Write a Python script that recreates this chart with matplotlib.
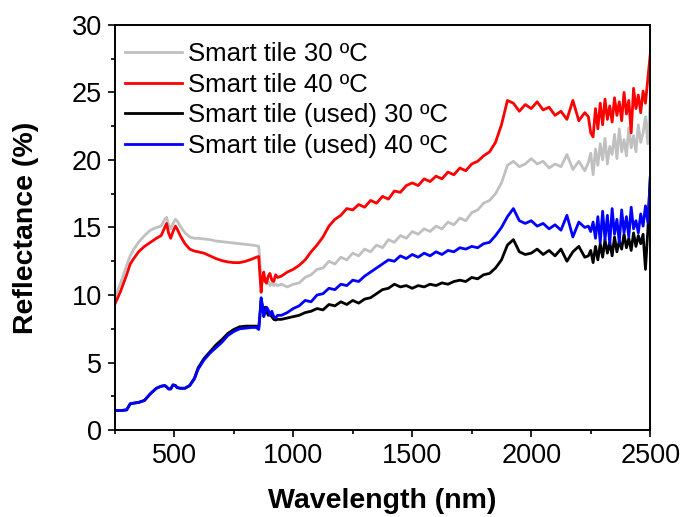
import matplotlib
matplotlib.use('Agg')
import matplotlib.pyplot as plt
from matplotlib.ticker import MultipleLocator

plt.rcParams['font.family'] = ['Liberation Sans', 'DejaVu Sans']

# Wavelength grid (nm): smooth UV-VIS part, the detector switch near 860 nm, then NIR
wl = [250, 275, 300, 315, 330, 350, 375, 400, 425, 445, 460, 468, 476, 485, 495,
      505, 512, 525, 545, 565, 585, 600, 625, 650, 675, 700, 725, 750, 775, 800,
      825, 845, 855,
      860, 865, 870, 876, 882, 888, 895, 902, 910, 918, 926, 934,
      950, 975, 1000, 1025, 1050, 1075, 1100, 1125, 1150, 1175, 1200, 1225, 1250,
      1275, 1300, 1325, 1350, 1375, 1400, 1425, 1450, 1475, 1500, 1525, 1550, 1575,
      1600, 1625, 1650, 1675, 1700, 1725, 1750, 1775, 1800, 1825, 1850, 1875, 1900,
      1925, 1950, 1975, 2000, 2025, 2050, 2075, 2100, 2125, 2150, 2175, 2200, 2225,
      2240, 2250, 2260, 2270, 2280, 2290, 2300, 2310, 2320, 2330, 2340, 2350, 2360,
      2370, 2380, 2390, 2400, 2410, 2420, 2430, 2440, 2450, 2460, 2470, 2480, 2490,
      2500]

tile_30 = [9.8, 10.9, 12.2, 12.9, 13.4, 13.9, 14.4, 14.8, 15.0, 15.1, 15.6, 15.75, 15.2, 14.9, 15.3,
           15.6, 15.5, 15.1, 14.6, 14.3, 14.2, 14.2, 14.15, 14.1, 14.0, 13.95, 13.9, 13.85, 13.8, 13.75,
           13.7, 13.65, 13.6,
           12.5, 11.2, 11.6, 11.0, 11.3, 10.8, 11.0, 10.7, 10.9, 10.7, 10.8, 10.7,
           10.8, 10.6, 10.8, 10.9, 11.3, 11.5, 11.9, 12.0, 12.5, 12.3, 12.8, 12.6, 13.1,
           12.9, 13.4, 13.2, 13.7, 13.5, 14.1, 13.9, 14.4, 14.2, 14.7, 14.5, 14.9, 14.7,
           15.1, 14.9, 15.4, 15.2, 15.7, 15.5, 16.1, 16.3, 16.8, 17.0, 17.5, 18.3, 19.6,
           19.9, 19.5, 19.7, 20.1, 19.7, 19.9, 19.4, 19.7, 19.5, 20.4, 19.3, 19.9, 19.2,
           19.8, 20.5, 18.9, 20.8, 19.6, 21.2, 20.0, 21.6, 19.7, 21.0, 20.4, 21.9, 20.1,
           22.3, 20.6, 21.5, 20.3, 22.4, 20.9, 21.8, 20.6, 22.6, 21.3, 22.0, 23.2, 21.2,
           24.5]

tile_40 = [9.3, 10.3, 11.5, 12.3, 12.7, 13.2, 13.6, 13.9, 14.2, 14.4, 15.0, 15.3, 14.6, 14.2, 14.7,
           15.1, 14.9, 14.4, 13.8, 13.4, 13.25, 13.2, 13.1, 12.9, 12.7, 12.55, 12.45, 12.4, 12.4, 12.5,
           12.65, 12.8, 12.85,
           11.5, 10.2, 11.2, 11.7, 11.0, 10.9, 11.4, 11.6, 11.1, 11.0, 11.5, 11.3,
           11.4, 11.7, 11.9, 12.2, 12.6, 13.2, 13.7, 14.3, 15.1, 15.6, 15.9, 16.4, 16.3,
           16.7, 16.5, 17.0, 16.8, 17.3, 17.1, 17.7, 17.6, 18.1, 18.3, 18.1, 18.6, 18.4,
           18.8, 18.6, 19.1, 18.9, 19.4, 19.2, 19.7, 19.9, 20.3, 20.6, 21.3, 22.6, 24.4,
           24.2, 23.6, 24.1, 23.8, 24.3, 23.7, 23.9, 23.3, 23.6, 23.0, 24.4, 22.9, 23.5,
           23.2, 22.0, 21.7, 23.8, 22.3, 24.2, 22.6, 24.5, 23.0, 24.0, 22.8, 24.6, 23.3,
           24.3, 22.9, 25.0, 23.4, 24.4, 22.0, 25.3, 23.8, 24.8, 23.5, 25.1, 24.2, 26.0,
           27.8]

used_30 = [1.45, 1.45, 1.5, 1.95, 2.0, 2.05, 2.2, 2.7, 3.1, 3.25, 3.3, 3.2, 3.05, 3.05, 3.35,
           3.3, 3.15, 3.1, 3.1, 3.3, 3.85, 4.6, 5.3, 5.8, 6.3, 6.7, 7.15, 7.45, 7.65, 7.7,
           7.7, 7.7, 7.6,
           8.5, 9.6, 9.2, 8.6, 9.1, 8.8, 8.5, 8.6, 8.4, 8.2, 8.15, 8.2,
           8.2, 8.3, 8.4, 8.5, 8.7, 8.8, 9.0, 8.9, 9.3, 9.2, 9.5, 9.3, 9.6,
           9.4, 9.7, 9.8, 10.1, 10.4, 10.5, 10.8, 10.6, 10.7, 10.5, 10.7, 10.6, 10.8,
           10.7, 10.9, 10.8, 11.0, 11.1, 11.0, 11.3, 11.2, 11.5, 11.6, 12.0, 12.6, 13.7,
           14.1, 13.2, 13.0, 13.1, 13.4, 13.0, 13.3, 12.9, 13.4, 12.5, 13.2, 13.6, 12.8,
           12.9, 13.3, 12.4, 13.6, 12.6, 13.8, 12.8, 14.1, 13.1, 13.9, 12.9, 14.3, 13.2,
           14.0, 13.4, 14.5, 13.5, 14.2, 13.3, 14.6, 13.6, 14.4, 13.8, 14.5, 11.9, 14.8,
           18.7]

used_40 = [1.45, 1.45, 1.5, 1.95, 2.0, 2.05, 2.2, 2.7, 3.1, 3.25, 3.3, 3.2, 3.05, 3.05, 3.35,
           3.3, 3.15, 3.1, 3.1, 3.3, 3.8, 4.5, 5.2, 5.7, 6.1, 6.5, 7.0, 7.3, 7.5, 7.55,
           7.6, 7.6, 7.45,
           8.5, 9.8, 9.3, 8.4, 8.7, 9.1, 8.9, 8.5, 8.8, 8.4, 8.3, 8.5,
           8.5, 8.7, 9.0, 9.2, 9.6, 9.5, 10.0, 10.1, 10.5, 10.4, 10.8, 10.7, 11.1,
           11.0, 11.4, 11.7, 12.0, 12.3, 12.6, 12.5, 12.9, 12.7, 13.0, 12.8, 13.1, 12.9,
           13.2, 13.0, 13.3, 13.2, 13.5, 13.4, 13.6, 13.5, 13.8, 13.9, 14.4, 15.0, 15.8,
           16.4, 15.5, 15.3, 15.5, 15.1, 15.3, 14.9, 15.2, 14.8, 15.9, 14.3, 15.4, 15.0,
           15.1, 14.7, 15.4, 14.2, 15.8, 13.9, 16.2, 14.1, 15.9, 13.8, 16.4, 14.5, 15.6,
           13.9, 16.3, 14.6, 15.8, 14.3, 16.5, 14.9, 15.5, 14.6, 16.0, 15.1, 16.6, 15.4,
           18.5]

labels = ['Smart tile 30 ºC', 'Smart tile 40 ºC',
          'Smart tile (used) 30 ºC', 'Smart tile (used) 40 ºC']

fig = plt.figure(figsize=(6.83, 5.17), dpi=100)
ax = fig.add_axes([0.168, 0.168, 0.784, 0.784])

ax.plot(wl, tile_30, color='#c0c0c0', lw=2.0, label=labels[0])
ax.plot(wl, tile_40, color='#ff0000', lw=2.0, label=labels[1])
ax.plot(wl, used_30, color='#000000', lw=2.0, label=labels[2])
ax.plot(wl, used_40, color='#0000ff', lw=2.0, label=labels[3])

ax.set_xlim(250, 2500)
ax.set_ylim(0, 30)
ax.xaxis.set_major_locator(MultipleLocator(500))
ax.xaxis.set_minor_locator(MultipleLocator(250))
ax.yaxis.set_major_locator(MultipleLocator(5))
ax.yaxis.set_minor_locator(MultipleLocator(2.5))
ax.tick_params(which='both', direction='out', top=False, right=False, labelsize=19.5, width=1.2)
ax.tick_params(which='major', length=5, pad=4)
ax.tick_params(which='minor', length=3)
for sp in ax.spines.values():
    sp.set_linewidth(1.4)

ax.set_xlabel('Wavelength (nm)', fontsize=20.5, fontweight='bold', labelpad=14)
ax.set_ylabel('Reflectance (%)', fontsize=20.5, fontweight='bold', labelpad=24)

ax.legend(loc='upper left', frameon=False, fontsize=18.5, handlelength=2.2,
          handletextpad=0.25, labelspacing=0.25, borderpad=0.4, borderaxespad=0,
          bbox_to_anchor=(0.0, 0.982))

fig.savefig('out.png', dpi=100)
